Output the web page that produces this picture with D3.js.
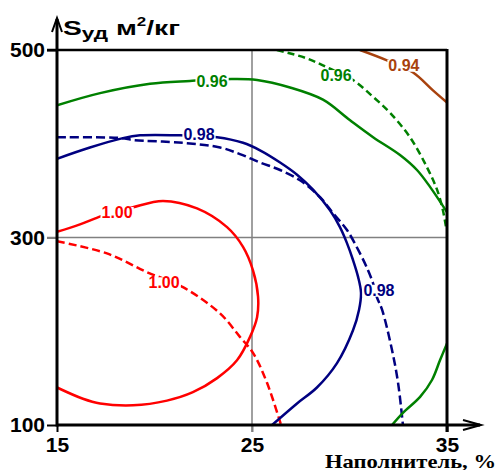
<!DOCTYPE html>
<html>
<head>
<meta charset="utf-8">
<script src="https://cdn.jsdelivr.net/npm/d3@7"></script>
<style>
  html, body { margin: 0; padding: 0; background: #fff; }
  svg { display: block; }
  .tick text { font-family: "Liberation Sans", Arial, sans-serif; font-weight: bold; font-size: 21px; fill: #000; }
  .lbl { font-family: "Liberation Sans", Arial, sans-serif; font-size: 16px; font-weight: bold; }
</style>
</head>
<body>
<svg id="chart" width="498" height="470"></svg>
<script>
const xTicks = [15, 25, 35];
const yTicks = [100, 300, 500];
const gridX = [25];
const gridY = [300];

// изолинии: [наполнитель, %; S уд, м2/кг]
const red100Solid = [
  [15, 306], [16.18, 314], [17.31, 323], [18.85, 332], [20.44, 339], [22.18, 331],
  [23.72, 311], [24.54, 290], [25.05, 265], [25.31, 237], [25.26, 215], [24.9, 194],
  [24.23, 169], [23.21, 150], [21.97, 135], [20.64, 126], [18.9, 121], [17.21, 123],
  [16.33, 128], [15, 140]
];
const red100Dash = [
  [15, 296], [17.56, 283], [19.62, 263], [21.46, 247], [23.36, 219], [24.38, 194],
  [25.05, 177], [25.77, 145], [26.49, 100]
];
const blue098Solid = [
  [15, 384], [16.69, 396], [18.38, 406], [19.26, 409], [21.31, 409], [23.21, 407],
  [24.54, 401], [25.41, 393], [26.44, 380], [27.31, 367], [28.13, 351], [29, 329],
  [29.51, 311], [29.87, 294], [30.18, 276], [30.44, 258], [30.59, 241], [30.49, 223],
  [30.18, 201], [29.36, 166], [28.33, 140], [27.31, 123], [26.03, 100]
];
const blue098Dash = [
  [15, 407], [18.33, 406], [18.9, 404], [21.46, 401], [23.36, 396], [24.38, 389],
  [25.41, 380], [26.44, 372], [27.46, 361], [28.49, 343], [29.15, 326], [29.87, 308],
  [30.54, 283], [30.95, 265], [31.21, 251], [31.41, 236], [31.67, 223], [32.18, 180],
  [32.49, 145], [32.74, 100]
];
const green096Solid = [
  [15, 441], [17.21, 454], [19.77, 464], [21.82, 467], [23.97, 469], [25.26, 468],
  [26.95, 460], [28.64, 447], [30.03, 425], [31.21, 407], [32.59, 388], [33.46, 372],
  [34.13, 354], [35, 327]
];
const green096Dash = [
  [26.28, 500], [27.82, 491], [29, 480], [30.18, 468], [31.21, 450], [32.08, 433],
  [33.1, 407], [33.97, 375], [34.49, 351], [34.79, 329], [34.95, 311]
];
const green096Low = [
  [32.18, 100], [32.74, 113], [33.62, 130], [34.23, 148], [34.64, 169], [35, 187]
];
const brown094 = [
  [30.54, 500], [31.92, 489], [33.26, 476], [34.28, 457], [35, 444]
];

const contours = [
  { pts: red100Solid, color: "#ff0000", dash: null },
  { pts: red100Dash, color: "#ff0000", dash: "8,4" },
  { pts: blue098Solid, color: "#000080", dash: null },
  { pts: blue098Dash, color: "#000080", dash: "9,4" },
  { pts: green096Solid, color: "#008000", dash: null },
  { pts: green096Dash, color: "#008000", dash: "7,4" },
  { pts: green096Low, color: "#008000", dash: null },
  { pts: brown094, color: "#a8420e", dash: null }
];

const labels = [
  { text: "1.00", at: [18.08, 327], color: "#ff0000" },
  { text: "1.00", at: [20.49, 252], color: "#ff0000" },
  { text: "0.98", at: [22.28, 410], color: "#000080" },
  { text: "0.98", at: [31.51, 244], color: "#000080" },
  { text: "0.96", at: [22.95, 467], color: "#008000" },
  { text: "0.96", at: [29.31, 473], color: "#008000" },
  { text: "0.94", at: [32.79, 484], color: "#a8420e" }
];

const svg = d3.select("#chart");

const x = d3.scaleLinear().domain([15, 35]).range([57, 447]);
const y = d3.scaleLinear().domain([100, 500]).range([425, 50]);

// сетка
svg.selectAll("line.gx").data(gridX).join("line")
  .attr("x1", d => x(d)).attr("x2", d => x(d))
  .attr("y1", y(500)).attr("y2", y(100) + 7)
  .attr("stroke", "#808080").attr("stroke-width", 1.5);
svg.selectAll("line.gy").data(gridY).join("line")
  .attr("x1", x(15) - 10).attr("x2", x(35))
  .attr("y1", d => y(d)).attr("y2", d => y(d))
  .attr("stroke", "#808080").attr("stroke-width", 1.5);

// оси
const xAxis = svg.append("g")
  .attr("transform", `translate(0,${y(100)})`)
  .call(d3.axisBottom(x).tickValues(xTicks).tickSize(7).tickPadding(5).tickFormat(d3.format("d")));
const yAxis = svg.append("g")
  .attr("transform", `translate(${x(15)},0)`)
  .call(d3.axisLeft(y).tickValues(yTicks).tickSize(10).tickPadding(2).tickFormat(d3.format("d")));
[xAxis, yAxis].forEach(a => {
  a.select(".domain").remove();
  a.selectAll(".tick line").attr("stroke", "#000").attr("stroke-width", 2);
});
xAxis.selectAll(".tick line").filter(d => gridX.includes(d)).attr("stroke", "#808080");
yAxis.selectAll(".tick line").filter(d => gridY.includes(d)).attr("stroke", "#808080");

// изолинии
const line = d3.line()
  .x(d => x(d[0]))
  .y(d => y(d[1]))
  .curve(d3.curveCatmullRom.alpha(0.5));

svg.append("clipPath").attr("id", "plot")
  .append("rect")
  .attr("x", x(15)).attr("y", y(500))
  .attr("width", x(35) - x(15)).attr("height", y(100) - y(500));

svg.append("g").attr("clip-path", "url(#plot)")
  .selectAll("path").data(contours).join("path")
  .attr("d", d => line(d.pts))
  .attr("fill", "none")
  .attr("stroke", d => d.color)
  .attr("stroke-width", 2.5)
  .attr("stroke-dasharray", d => d.dash);

// подписи изолиний (белая подложка разрывает линию)
const lg = svg.append("g").selectAll("g").data(labels).join("g")
  .attr("transform", d => `translate(${x(d.at[0])},${y(d.at[1])})`);
lg.append("text")
  .attr("class", "lbl")
  .attr("text-anchor", "middle")
  .attr("dy", "0.36em")
  .attr("fill", d => d.color)
  .text(d => d.text);
lg.each(function () {
  const g = d3.select(this);
  const b = g.select("text").node().getBBox();
  g.insert("rect", "text")
    .attr("x", b.x - 1).attr("y", b.y + 3)
    .attr("width", b.width + 2).attr("height", b.height - 5)
    .attr("fill", "#fff");
});

// рамка и стрелки
const frame = svg.append("g").attr("fill", "none").attr("stroke", "#000");
frame.append("line")
  .attr("x1", x(15) - 10).attr("x2", x(35))
  .attr("y1", y(500)).attr("y2", y(500)).attr("stroke-width", 2.5);
frame.append("line")
  .attr("x1", x(35)).attr("x2", x(35))
  .attr("y1", y(500) - 1).attr("y2", y(100) + 7).attr("stroke-width", 3);
frame.append("line")
  .attr("x1", x(15)).attr("x2", 480)
  .attr("y1", y(100)).attr("y2", y(100)).attr("stroke-width", 3);
frame.append("line")
  .attr("x1", x(15)).attr("x2", x(15))
  .attr("y1", 19).attr("y2", y(100) + 1.5).attr("stroke-width", 3);
frame.append("path")
  .attr("d", `M${x(15) - 5},32L${x(15)},18L${x(15) + 5},32`).attr("stroke-width", 2);
frame.append("path")
  .attr("d", `M463,420L481,${y(100)}L463,430`).attr("stroke-width", 2);

// подписи осей
const yl = svg.append("text")
  .attr("x", 63).attr("y", 35)
  .attr("font-family", "'Liberation Sans', Arial, sans-serif")
  .attr("font-weight", "bold")
  .attr("font-size", 20)
  .attr("textLength", 117)
  .attr("lengthAdjust", "spacingAndGlyphs");
yl.append("tspan").text("S");
yl.append("tspan").attr("font-size", 16).attr("dy", 4).text("уд");
yl.append("tspan").attr("dy", -4).text(" м");
yl.append("tspan").attr("font-size", 12).attr("dy", -9).text("2");
yl.append("tspan").attr("dy", 9).text("/кг");

svg.append("text")
  .attr("x", 496).attr("y", 468)
  .attr("text-anchor", "end")
  .attr("font-family", "'Liberation Serif', 'Times New Roman', serif")
  .attr("font-weight", "bold")
  .attr("font-size", 19)
  .attr("textLength", 171)
  .attr("lengthAdjust", "spacingAndGlyphs")
  .text("Наполнитель, %");
</script>
</body>
</html>
